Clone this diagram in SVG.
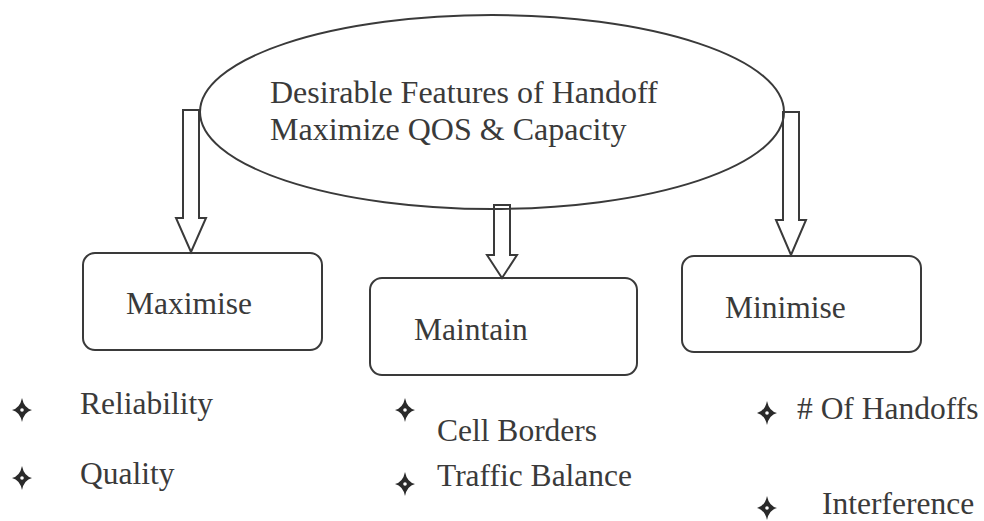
<svg xmlns="http://www.w3.org/2000/svg" width="984" height="521" viewBox="0 0 984 521">
<defs>
<style>
text{font-family:'Liberation Serif','Times New Roman',Times,serif;fill:#3a3a3a;font-size:31.5px}
.ti{font-size:32px}
.s{fill:none;stroke:#3a3a3a;stroke-width:2}
.a{fill:#fff;stroke:#3a3a3a;stroke-width:2;stroke-linejoin:miter}
.b{fill:#2a2a2a}
</style>
<g id="star">
<path d="M0,-12 Q2,-2 10,0 Q2,2 0,12 Q-2,2 -10,0 Q-2,-2 0,-12Z"/>
<circle r="1.8" fill="#fff"/>
</g>
</defs>
<rect width="984" height="521" fill="#fff"/>
<g id="connectors">
<path class="a" d="M183,110 H199 V218 H206 L191,252 L176,218 H183 Z"/>
<path class="a" d="M494,205 H510 V255 H517 L502,278 L487,255 H494 Z"/>
<path class="a" d="M783,112 H799 V220 H806 L791,255 L776,220 H783 Z"/>
</g>
<g id="root">
<ellipse class="s" cx="492" cy="112" rx="292" ry="97" fill="#fff"/>
<text class="ti" x="270" y="103">Desirable Features of Handoff</text>
<text class="ti" x="270" y="140">Maximize QOS &amp; Capacity</text>
</g>
<g id="maximise">
<rect class="s" x="83" y="253" width="239" height="97" rx="12"/>
<text x="126" y="314">Maximise</text>
</g>
<g id="maintain">
<rect class="s" x="370" y="278" width="267" height="97" rx="12"/>
<text x="414" y="340">Maintain</text>
</g>
<g id="minimise">
<rect class="s" x="682" y="256" width="239" height="96" rx="12"/>
<text x="725" y="318">Minimise</text>
</g>
<g id="bullets">
<use href="#star" class="b" x="22" y="410"/>
<text x="80" y="414">Reliability</text>
<use href="#star" class="b" x="22" y="478"/>
<text x="80" y="484">Quality</text>
<use href="#star" class="b" x="405" y="410"/>
<text x="437" y="441">Cell Borders</text>
<use href="#star" class="b" x="405" y="484"/>
<text x="437" y="486">Traffic Balance</text>
<use href="#star" class="b" x="767" y="413"/>
<text x="797" y="419"># Of Handoffs</text>
<use href="#star" class="b" x="767" y="508"/>
<text x="822" y="514">Interference</text>
</g>
</svg>
